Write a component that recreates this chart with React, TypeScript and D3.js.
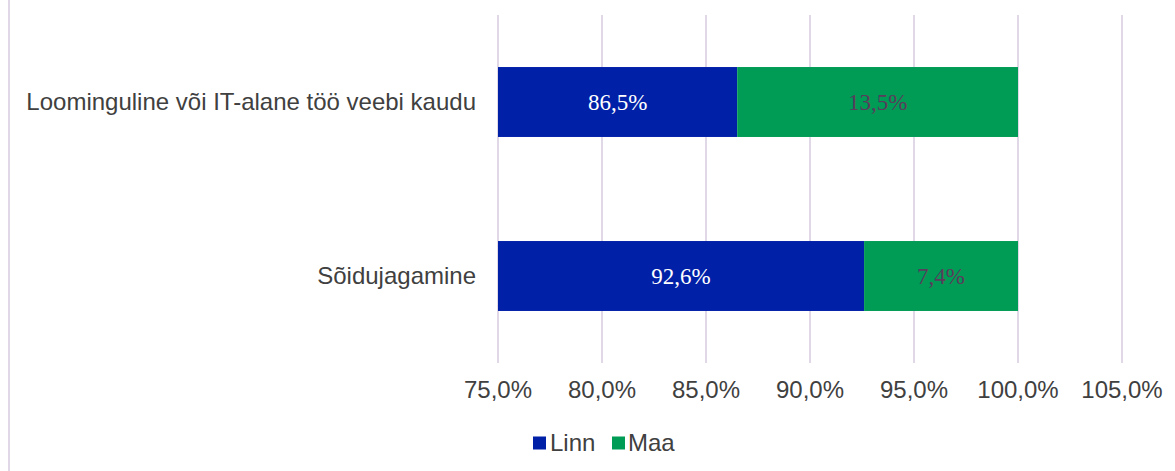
import React from "react";
import * as d3 from "d3";

const categories = ["Loominguline või IT-alane töö veebi kaudu", "Sõidujagamine"];
const linnValues = [86.5, 92.6];
const maaValues = [13.5, 7.4];
const seriesNames = ["Linn", "Maa"];
const tickValues = [75, 80, 85, 90, 95, 100, 105];

const W = 1175;
const H = 471;
const BLUE = "#0020a8";
const GREEN = "#009b55";
const fmt = (v: number) => v.toFixed(1).replace(".", ",") + "%";

export default function App() {
  const x = d3.scaleLinear().domain([75, 105]).range([498, 1122]);
  const y = d3.scaleBand<string>().domain(categories).range([15, 363]).paddingInner(0.598).paddingOuter(0.299);
  const bw = y.bandwidth();
  const sans = "Liberation Sans, Arial, sans-serif";
  const serif = "Liberation Serif, Times New Roman, serif";
  return (
    <div style={{ position: "absolute", left: 0, top: 0 }}>
      <svg width={W} height={H} style={{ display: "block" }}>
        <rect x={0} y={0} width={W} height={H} fill="#fff" />
        <line x1={9} x2={9} y1={0} y2={H} stroke="#e0d8e6" strokeWidth={2} />
        {tickValues.map((t) => (
          <line key={t} x1={x(t)} x2={x(t)} y1={15} y2={363} stroke="#e0d8e6" strokeWidth={2} />
        ))}
        {categories.map((c, i) => {
          const y0 = y(c)!;
          const cy = y0 + bw / 2;
          const lv = linnValues[i];
          const mv = maaValues[i];
          return (
            <g key={c}>
              <rect x={x(75)} y={y0} width={x(lv) - x(75)} height={bw} fill={BLUE} />
              <rect x={x(lv)} y={y0} width={x(lv + mv) - x(lv)} height={bw} fill={GREEN} />
              <text x={(x(75) + x(lv)) / 2} y={cy} dy="0.35em" textAnchor="middle" fill="#ffffff" fontFamily={serif} fontSize={23}>
                {fmt(lv)}
              </text>
              <text x={(x(lv) + x(lv + mv)) / 2} y={cy} dy="0.35em" textAnchor="middle" fill="#5a3d5c" fontFamily={serif} fontSize={23}>
                {fmt(mv)}
              </text>
              <text x={476} y={cy} dy="0.35em" textAnchor="end" fill="#404040" fontFamily={sans} fontSize={24}>
                {c}
              </text>
            </g>
          );
        })}
        {tickValues.map((t) => (
          <text key={"t" + t} x={x(t)} y={390} dy="0.35em" textAnchor="middle" fill="#404040" fontFamily={sans} fontSize={24}>
            {fmt(t)}
          </text>
        ))}
        <g>
          <rect x={533} y={436.5} width={13} height={13} fill={BLUE} />
          <text x={550} y={443} dy="0.35em" fill="#404040" fontFamily={sans} fontSize={24}>{seriesNames[0]}</text>
          <rect x={612} y={436.5} width={13} height={13} fill={GREEN} />
          <text x={628} y={443} dy="0.35em" fill="#404040" fontFamily={sans} fontSize={24}>{seriesNames[1]}</text>
        </g>
      </svg>
    </div>
  );
}
